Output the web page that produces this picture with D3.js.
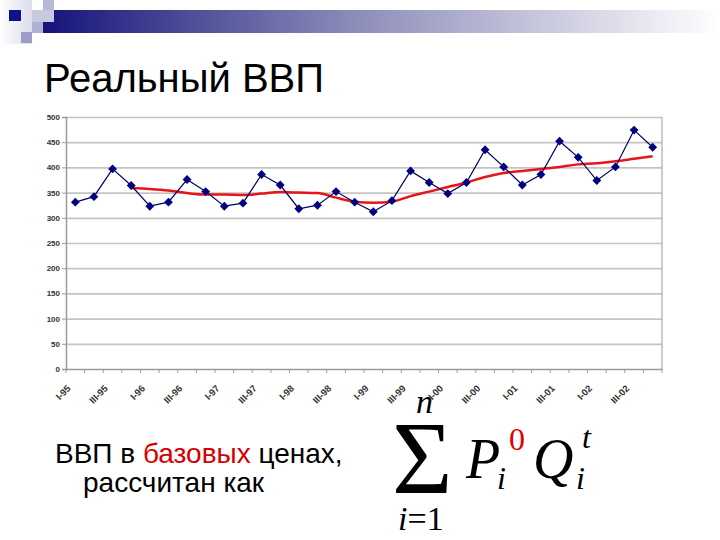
<!DOCTYPE html>
<html><head><meta charset="utf-8">
<script src="https://cdn.jsdelivr.net/npm/d3@7"></script>
<style>body{margin:0;background:#fff}svg{display:block}</style>
</head><body>
<script>
const categories = ["I-95","II-95","III-95","IV-95","I-96","II-96","III-96","IV-96",
  "I-97","II-97","III-97","IV-97","I-98","II-98","III-98","IV-98",
  "I-99","II-99","III-99","IV-99","I-00","II-00","III-00","IV-00",
  "I-01","II-01","III-01","IV-01","I-02","II-02","III-02","IV-02"];
const shownLabels = ["I-95","III-95","I-96","III-96","I-97","III-97","I-98","III-98",
  "I-99","III-99","I-00","III-00","I-01","III-01","I-02","III-02"];
const gdpValues = [331,342,397,364,323,331,376,352,323,329,386,365,318,325,352,331,
  312,334,393,370,348,370,435,401,365,386,452,420,374,401,474,440];
const trendValues = [null,null,null,359,357,354,349,346,346,345,348,351,350,349,340,332,
  330,332,343,352,361,370,381,389,393,397,401,406,408,412,417,422];
const yTicks = [0,50,100,150,200,250,300,350,400,450,500];

(function(){
const W = 720, H = 540;
const svg = d3.select("body").append("svg").attr("width", W).attr("height", H);

// decoration
const defs = svg.append("defs");
const g1 = defs.append("linearGradient").attr("id","bar").attr("x1","0").attr("x2","1").attr("y1","0").attr("y2","0");
g1.append("stop").attr("offset","0").attr("stop-color","#14147a");
g1.append("stop").attr("offset","0.45").attr("stop-color","#8a8ab8");
g1.append("stop").attr("offset","1").attr("stop-color","#ffffff");
const g2 = defs.append("linearGradient").attr("id","left").attr("x1","0").attr("x2","1");
g2.append("stop").attr("offset","0").attr("stop-color","#ffffff");
g2.append("stop").attr("offset","1").attr("stop-color","#dcdcec");
svg.append("rect").attr("x",0).attr("y",0).attr("width",32).attr("height",44).attr("fill","url(#left)");
svg.append("rect").attr("x",43).attr("y",10).attr("width",677).attr("height",23).attr("fill","url(#bar)");
svg.append("rect").attr("x",43).attr("y",0).attr("width",11).attr("height",22).attr("fill","#b8b8d8");
svg.append("rect").attr("x",32).attr("y",10).attr("width",22).attr("height",12).attr("fill","#c8c8e0");
svg.append("rect").attr("x",32).attr("y",22).attr("width",11).attr("height",11).attr("fill","#b0b0d4");
svg.append("rect").attr("x",9).attr("y",10).attr("width",12).attr("height",11).attr("fill","#10108a");
svg.append("rect").attr("x",21).attr("y",32).attr("width",11).attr("height",11).attr("fill","#9c9cc8");

// title
svg.append("text").attr("x",44).attr("y",92)
  .attr("font-family","Liberation Sans, Arial, sans-serif").attr("font-size",40).attr("fill","#000")
  .text("Реальный ВВП");

// chart
const pL = 66, pR = 662, pT = 117, pB = 369;
const x = d3.scaleBand().domain(categories).range([pL, pR]).padding(0);
const y = d3.scaleLinear().domain([0, 500]).range([pB, pT]);
const cx = d => x(d) + x.bandwidth() / 2;

// gridlines
svg.append("g").attr("transform", `translate(${pL},0)`)
  .call(d3.axisLeft(y).tickValues(yTicks.filter(v => v > 0)).tickSize(-(pR - pL)).tickFormat(""))
  .call(g => g.select(".domain").remove())
  .call(g => g.selectAll("line").attr("stroke","#c4c4c4").attr("stroke-width",1.7));

// right border
svg.append("line").attr("x1",pR).attr("x2",pR).attr("y1",pT).attr("y2",pB)
  .attr("stroke","#a8a8a8").attr("stroke-width",1.2);

// y axis
svg.append("g").attr("transform", `translate(${pL},0)`)
  .call(d3.axisLeft(y).tickValues(yTicks).tickSize(4).tickPadding(2))
  .call(g => g.select(".domain").attr("stroke","#9a9a9a").attr("stroke-width",1.5))
  .call(g => g.selectAll("line").attr("stroke","#9a9a9a"))
  .call(g => g.selectAll("text").attr("font-family","Liberation Sans, Arial, sans-serif")
      .attr("font-size",8).attr("font-weight","bold").attr("fill","#333"));

// x axis
const xg = svg.append("g").attr("transform", `translate(0,${pB})`)
  .call(d3.axisBottom(x).tickSize(0).tickFormat(d => shownLabels.includes(d) ? d : ""));
xg.select(".domain").attr("stroke","#9a9a9a").attr("stroke-width",1.5);
xg.selectAll("text").attr("font-family","Liberation Sans, Arial, sans-serif")
  .attr("font-size",9.5).attr("font-weight","bold").attr("fill","#333")
  .attr("text-anchor","end").attr("x",0).attr("y",0).attr("dy",0)
  .attr("transform","translate(-4,20) rotate(-45)");
xg.selectAll(".bt").data(categories.concat(["__end"])).enter().append("line")
  .attr("class","bt")
  .attr("x1", d => d === "__end" ? pR : x(d)).attr("x2", d => d === "__end" ? pR : x(d))
  .attr("y1",0).attr("y2",4).attr("stroke","#9a9a9a");

// trend line (red)
const trendData = categories.map((c, i) => ({c, v: trendValues[i]})).filter(d => d.v !== null);
svg.append("path").datum(trendData)
  .attr("d", d3.line().x(d => cx(d.c)).y(d => y(d.v)).curve(d3.curveMonotoneX))
  .attr("fill","none").attr("stroke","#e8141c").attr("stroke-width",2.5);

// data line
const gdpData = categories.map((c, i) => ({c, v: gdpValues[i]}));
svg.append("path").datum(gdpData)
  .attr("d", d3.line().x(d => cx(d.c)).y(d => y(d.v)))
  .attr("fill","none").attr("stroke","#000060").attr("stroke-width",1.2);
svg.append("g").selectAll("path").data(gdpData).enter().append("path")
  .attr("d", d3.symbol().type(d3.symbolDiamond2).size(50))
  .attr("transform", d => `translate(${cx(d.c)},${y(d.v)})`)
  .attr("fill","#000080");

// bottom text
const t1 = svg.append("text").attr("x",55).attr("y",463)
  .attr("font-family","Liberation Sans, Arial, sans-serif").attr("font-size",28).attr("fill","#000");
t1.append("tspan").text("ВВП в ");
t1.append("tspan").attr("fill","#d40000").text("базовых");
t1.append("tspan").text(" ценах,");
svg.append("text").attr("x",83).attr("y",492)
  .attr("font-family","Liberation Sans, Arial, sans-serif").attr("font-size",28).attr("fill","#000")
  .text("рассчитан как");

// formula
const serif = "Liberation Serif, Times New Roman, serif";
svg.append("text").attr("x",392).attr("y",493).attr("font-family",serif).attr("font-size",104).text("Σ");
svg.append("text").attr("x",416).attr("y",413).attr("font-family",serif).attr("font-style","italic").attr("font-size",34).text("n");
const t2 = svg.append("text").attr("x",398).attr("y",530).attr("font-family",serif).attr("font-size",34);
t2.append("tspan").attr("font-style","italic").text("i");
t2.append("tspan").text("=1");
svg.append("text").attr("x",466).attr("y",478).attr("font-family",serif).attr("font-style","italic").attr("font-size",56).text("P");
svg.append("text").attr("x",509).attr("y",450).attr("font-family",serif).attr("font-size",32).attr("fill","#e00000").text("0");
svg.append("text").attr("x",497).attr("y",489).attr("font-family",serif).attr("font-style","italic").attr("font-size",32).text("i");
svg.append("text").attr("x",533).attr("y",478).attr("font-family",serif).attr("font-style","italic").attr("font-size",56).text("Q");
svg.append("text").attr("x",582).attr("y",448).attr("font-family",serif).attr("font-style","italic").attr("font-size",32).text("t");
svg.append("text").attr("x",576).attr("y",489).attr("font-family",serif).attr("font-style","italic").attr("font-size",32).text("i");
})();
</script>
</body></html>
